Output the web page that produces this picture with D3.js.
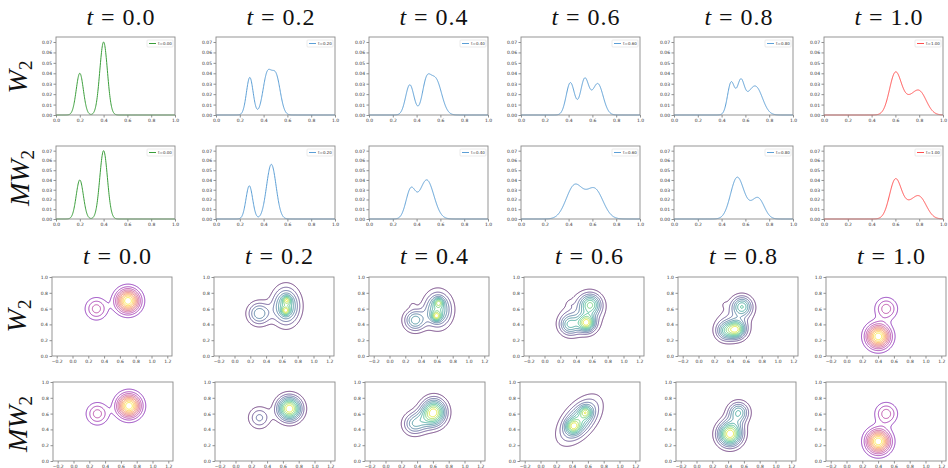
<!DOCTYPE html>
<html>
<head>
<meta charset="utf-8">
<script src="https://cdn.jsdelivr.net/npm/d3@7"></script>
<style>
  body { margin: 0; background: #fff; }
  svg { display: block; }
  .tick text { font-family: "DejaVu Sans", sans-serif; font-size: 4.5px; fill: #333; }
  .tick line { stroke: #444; stroke-width: 0.6; }
  .domain { stroke: none; }
  .math { font-family: "Liberation Serif", serif; fill: #111; }
</style>
</head>
<body>
<svg id="fig" width="948" height="468"></svg>
<script>
const times = ["0.0", "0.2", "0.4", "0.6", "0.8", "1.0"];
const legendLabels = ["t=0.00", "t=0.20", "t=0.40", "t=0.60", "t=0.80", "t=1.00"];
const lineColors = ["#3a9e3a", "#5c9fd6", "#5c9fd6", "#5c9fd6", "#5c9fd6", "#ff4d4d"];
const lineXTicks = [0, 0.2, 0.4, 0.6, 0.8, 1.0];
const lineYTicks = [0, 0.01, 0.02, 0.03, 0.04, 0.05, 0.06, 0.07];
const contourXTicks = [-0.2, 0, 0.2, 0.4, 0.6, 0.8, 1.0, 1.2];
const contourYTicks = [0, 0.2, 0.4, 0.6, 0.8, 1.0];

// 1D densities, bumps: [centre, spread, height]
const w2Peaks = [
  [[0.20, 0.030, 0.040], [0.40, 0.032, 0.070]],
  [[0.284, 0.028, 0.036], [0.43, 0.036, 0.038], [0.505, 0.036, 0.036]],
  [[0.343, 0.035, 0.029], [0.48, 0.035, 0.027], [0.56, 0.05, 0.034]],
  [[0.415, 0.035, 0.031], [0.535, 0.035, 0.034], [0.645, 0.045, 0.030]],
  [[0.48, 0.030, 0.031], [0.56, 0.030, 0.030], [0.62, 0.040, 0.007], [0.69, 0.055, 0.026]],
  [[0.60, 0.050, 0.040], [0.70, 0.050, 0.009], [0.80, 0.060, 0.0225]]
];
const mw2Peaks = [
  [[0.20, 0.030, 0.040], [0.40, 0.032, 0.070]],
  [[0.28, 0.028, 0.034], [0.465, 0.040, 0.056]],
  [[0.35, 0.040, 0.029], [0.485, 0.060, 0.040]],
  [[0.45, 0.070, 0.034], [0.62, 0.070, 0.030]],
  [[0.53, 0.055, 0.042], [0.63, 0.050, 0.006], [0.71, 0.050, 0.020]],
  [[0.60, 0.050, 0.040], [0.70, 0.050, 0.009], [0.80, 0.060, 0.0225]]
];

// 2D densities: [x, y, sx, sy, height, angle in degrees]
const w2Blobs = [
  [[0.30, 0.60, 0.09, 0.09, 0.32, 0], [0.70, 0.70, 0.097, 0.097, 1, 0]],
  [[0.31, 0.54, 0.095, 0.095, 0.42, 0], [0.65, 0.635, 0.11, 0.15, 0.6, 0], [0.66, 0.71, 0.035, 0.035, 0.35, 0], [0.645, 0.575, 0.035, 0.035, 0.38, 0]],
  [[0.32, 0.455, 0.09, 0.09, 0.45, 0], [0.61, 0.59, 0.11, 0.14, 0.55, 0], [0.62, 0.68, 0.04, 0.04, 0.33, 0], [0.59, 0.505, 0.04, 0.04, 0.42, 0], [0.29, 0.645, 0.03, 0.03, 0.06, 0]],
  [[0.315, 0.40, 0.085, 0.085, 0.45, 0], [0.53, 0.42, 0.07, 0.07, 0.72, 0], [0.58, 0.655, 0.09, 0.09, 0.58, 0], [0.48, 0.52, 0.17, 0.17, 0.2, 0], [0.32, 0.66, 0.03, 0.03, 0.05, 0]],
  [[0.34, 0.32, 0.08, 0.08, 0.5, 0], [0.48, 0.34, 0.075, 0.075, 0.78, 0], [0.55, 0.63, 0.085, 0.085, 0.6, 0], [0.45, 0.45, 0.16, 0.16, 0.16, 0], [0.33, 0.655, 0.03, 0.03, 0.05, 0]],
  [[0.40, 0.25, 0.097, 0.097, 1, 0], [0.50, 0.60, 0.09, 0.09, 0.33, 0]]
];
const mw2Blobs = [
  [[0.30, 0.60, 0.09, 0.09, 0.32, 0], [0.70, 0.70, 0.097, 0.097, 1, 0]],
  [[0.30, 0.55, 0.09, 0.09, 0.3, 0], [0.68, 0.665, 0.10, 0.10, 1, 0]],
  [[0.61, 0.62, 0.10, 0.11, 0.85, 0], [0.35, 0.47, 0.09, 0.09, 0.33, 0], [0.47, 0.52, 0.10, 0.10, 0.2, 0]],
  [[0.49, 0.52, 0.20, 0.11, 0.55, 50], [0.41, 0.44, 0.06, 0.06, 0.4, 0], [0.57, 0.62, 0.05, 0.05, 0.35, 0]],
  [[0.42, 0.34, 0.10, 0.10, 1, 0], [0.53, 0.62, 0.085, 0.085, 0.55, 0], [0.47, 0.48, 0.10, 0.10, 0.12, 0]],
  [[0.40, 0.25, 0.097, 0.097, 1, 0], [0.50, 0.60, 0.09, 0.09, 0.33, 0]]
];
const colormaps = ["plasma", "viridis", "viridis", "viridis", "viridis", "plasma"];

// panel placement
const lineLefts = [56, 216, 369, 521, 674, 824];
const lineW = 119;
const lineRows = [[37, 115], [146, 219]];
const contourLefts = [[52, 214, 369, 524, 678, 826], [53, 215, 365, 520, 676, 826]];
const contourW = 120;
const contourRows = [[277, 356], [382, 461]];

const svg = d3.select('#fig');

function density1d(peaks, x) {
  return d3.sum(peaks, p => p[2] * Math.exp(-((x - p[0]) ** 2) / (2 * p[1] * p[1])));
}

function density2d(blobs, x, y) {
  return d3.sum(blobs, b => {
    const a = b[5] * Math.PI / 180;
    const dx = x - b[0], dy = y - b[1];
    const u = dx * Math.cos(a) + dy * Math.sin(a);
    const v = -dx * Math.sin(a) + dy * Math.cos(a);
    return b[4] * Math.exp(-(u * u / (b[2] * b[2]) + v * v / (b[3] * b[3])) / 2);
  });
}

function drawLinePanel(peaks, col, row) {
  const left = lineLefts[col], top = lineRows[row][0], bottom = lineRows[row][1];
  const x = d3.scaleLinear().domain([0, 1]).range([left, left + lineW]);
  const y = d3.scaleLinear().domain([0, 0.0748]).range([bottom, top]);
  const g = svg.append('g');

  g.append('g')
    .attr('transform', `translate(0, ${bottom})`)
    .call(d3.axisBottom(x).tickValues(lineXTicks).tickFormat(d3.format('.1f')).tickSize(2.5).tickPadding(1.5));
  g.append('g')
    .attr('transform', `translate(${left}, 0)`)
    .call(d3.axisLeft(y).tickValues(lineYTicks).tickFormat(d3.format('.2f')).tickSize(2.5).tickPadding(1.5));

  const xs = d3.range(0, 1.0001, 0.002);
  g.append('path')
    .datum(xs)
    .attr('fill', 'none')
    .attr('stroke', lineColors[col])
    .attr('stroke-width', 1)
    .attr('d', d3.line().x(d => x(d)).y(d => y(density1d(peaks, d))));

  g.append('rect')
    .attr('x', left).attr('y', top)
    .attr('width', lineW).attr('height', bottom - top)
    .attr('fill', 'none').attr('stroke', '#8a8a8a').attr('stroke-width', 0.9);

  // legend
  const lx = left + lineW - 28, ly = top + 3;
  g.append('rect')
    .attr('x', lx).attr('y', ly).attr('width', 26).attr('height', 7)
    .attr('fill', '#fff').attr('stroke', '#d6d6d6').attr('stroke-width', 0.5).attr('rx', 0.8);
  g.append('line')
    .attr('x1', lx + 2).attr('x2', lx + 9).attr('y1', ly + 3.5).attr('y2', ly + 3.5)
    .attr('stroke', lineColors[col]).attr('stroke-width', 1);
  g.append('text')
    .attr('x', lx + 11).attr('y', ly + 5)
    .attr('font-family', 'DejaVu Sans, sans-serif').attr('font-size', 4)
    .attr('fill', '#333')
    .text(legendLabels[col]);
}

function drawContourPanel(blobs, col, row) {
  const left = contourLefts[row][col], top = contourRows[row][0], bottom = contourRows[row][1];
  const h = bottom - top;
  const half = 0.5 * contourW / h;
  const x = d3.scaleLinear().domain([0.5 - half, 0.5 + half]).range([left, left + contourW]);
  const y = d3.scaleLinear().domain([0, 1]).range([bottom, top]);
  const g = svg.append('g');

  g.append('g')
    .attr('transform', `translate(0, ${bottom})`)
    .call(d3.axisBottom(x).tickValues(contourXTicks).tickFormat(d3.format('.1f')).tickSize(2.5).tickPadding(1.5));
  g.append('g')
    .attr('transform', `translate(${left}, 0)`)
    .call(d3.axisLeft(y).tickValues(contourYTicks).tickFormat(d3.format('.1f')).tickSize(2.5).tickPadding(1.5));

  const step = 0.005;
  const x0 = 0.5 - half;
  const nx = Math.ceil(2 * half / step) + 1, ny = Math.ceil(1 / step) + 1;
  const values = new Array(nx * ny);
  for (let j = 0; j < ny; j++) {
    for (let i = 0; i < nx; i++) {
      values[j * nx + i] = density2d(blobs, x0 + i * step, 1 - j * step);
    }
  }
  const vmax = d3.max(values);
  const nLevels = 10;
  const thresholds = d3.range(1, nLevels + 1).map(i => vmax * i / (nLevels + 1));
  const cmap = colormaps[col] === 'plasma'
    ? t => d3.interpolatePlasma(0.22 + 0.73 * t)
    : t => d3.interpolateViridis(0.02 + 0.93 * t);

  const proj = d3.geoTransform({
    point: function(px, py) { this.stream.point(x(x0 + px * step), y(1 - py * step)); }
  });
  const path = d3.geoPath(proj);
  const contours = d3.contours().size([nx, ny]).thresholds(thresholds)(values);

  g.selectAll('path.c')
    .data(contours)
    .enter()
    .append('path')
    .attr('class', 'c')
    .attr('d', path)
    .attr('fill', 'none')
    .attr('stroke', (d, i) => cmap(i / (nLevels - 1)))
    .attr('stroke-opacity', 0.85)
    .attr('stroke-width', 0.9);

  g.append('rect')
    .attr('x', left).attr('y', top)
    .attr('width', contourW).attr('height', h)
    .attr('fill', 'none').attr('stroke', '#8a8a8a').attr('stroke-width', 0.9);
}

function title(cx, baseline, label) {
  const t = svg.append('text')
    .attr('class', 'math')
    .attr('x', cx).attr('y', baseline)
    .attr('text-anchor', 'middle')
    .attr('font-size', 24)
    .attr('textLength', 68)
    .attr('lengthAdjust', 'spacing');
  t.append('tspan').attr('font-style', 'italic').text('t');
  t.append('tspan').text(' = ' + label);
}

function rowLabel(bx, cy, name) {
  const t = svg.append('text')
    .attr('class', 'math')
    .attr('transform', `translate(${bx}, ${cy}) rotate(-90)`)
    .attr('text-anchor', 'middle')
    .attr('font-size', 28);
  t.append('tspan').attr('font-style', 'italic').text(name);
  t.append('tspan').attr('font-size', 19).attr('dy', 5).text('2');
}

w2Peaks.forEach((p, i) => drawLinePanel(p, i, 0));
mw2Peaks.forEach((p, i) => drawLinePanel(p, i, 1));
w2Blobs.forEach((b, i) => drawContourPanel(b, i, 0));
mw2Blobs.forEach((b, i) => drawContourPanel(b, i, 1));

times.forEach((s, i) => {
  title(lineLefts[i] + lineW / 2 + 5, 25, s);
  title(contourLefts[0][i] + contourW / 2 + 5, 264, s);
});

rowLabel(27, 77, 'W');
rowLabel(29, 178, 'MW');
rowLabel(26, 316, 'W');
rowLabel(27, 424, 'MW');
</script>
</body>
</html>
